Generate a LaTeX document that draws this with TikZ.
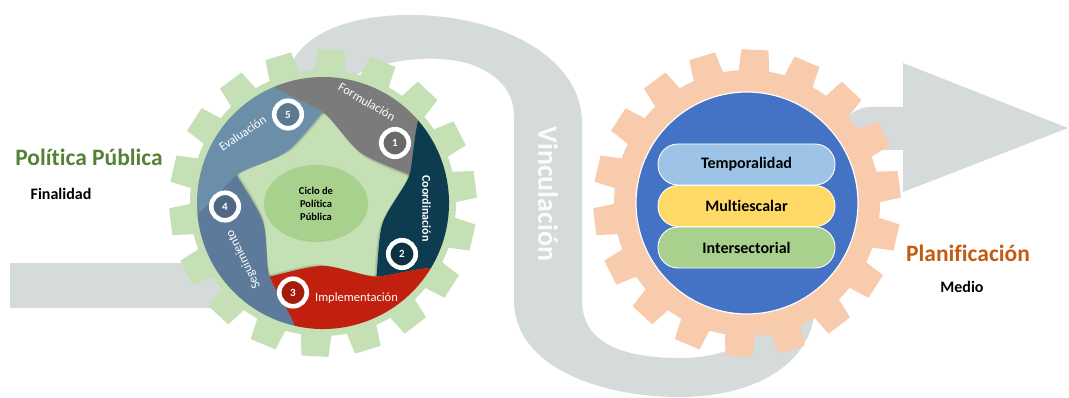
\documentclass[tikz,border=0pt]{standalone}
\usepackage{fontspec}
\setmainfont{Carlito}[Ligatures=NoCommon]
\usetikzlibrary{shapes.geometric}
\definecolor{bandgray}{HTML}{D5DADA}
\definecolor{leafgreen}{HTML}{C5E0B4}
\definecolor{peach}{HTML}{F8CBAD}
\definecolor{coreblue}{HTML}{4472C4}
\definecolor{pillblue}{HTML}{9DC3E6}
\definecolor{pillyellow}{HTML}{FFD966}
\definecolor{pillgreen}{HTML}{A9D18E}
\definecolor{ppgreen}{HTML}{548235}
\definecolor{planorange}{HTML}{C55A11}
\definecolor{formc}{HTML}{7B7B7B}
\definecolor{coordc}{HTML}{0D3B4F}
\definecolor{implc}{HTML}{C0200D}
\definecolor{seguc}{HTML}{5E7A9B}
\definecolor{evalc}{HTML}{6B8FA8}
\definecolor{cicloc}{HTML}{A9D18E}

% gear: centre, colour, phase of the first tooth
\newcommand{\gearshape}[3]{%
  \begin{scope}[shift={(#1)}]
    \fill[#2] (0,0) circle[radius=133];
    \foreach \a in {0,20,...,340}{
      \fill[#2] ({#3+\a-6.8}:131) -- ({#3+\a-5}:154) -- ({#3+\a+5}:154) -- ({#3+\a+6.8}:131) -- cycle;
    }
  \end{scope}}

% outline of one leaf of the cycle (the first one, at the top right)
\newcommand{\leafpath}{(-49.2,116) arc[start angle=113, end angle=41, radius=126]
      .. controls (90.6,64.1) and (89.47,38.53) .. (86.54,28.12)
      .. controls (78,32) and (50,42) .. (38.8,49.6)
      .. controls (26,58) and (10,84) .. (0,91)
      .. controls (-9,97) and (-33,106) .. (-49.2,116) -- cycle}

\begin{document}
\begin{tikzpicture}[x=1pt,y=1pt,
  leaflabel/.style={inner sep=0pt, text=white, font=\fontsize{12.5}{14}\selectfont},
  numring/.style={circle, draw=white, line width=4.6pt, minimum size=27.5pt, inner sep=0pt,
                  text=white, font=\bfseries\fontsize{11}{11}\selectfont},
  pill/.style={rectangle, rounded corners=20pt, minimum width=177pt, minimum height=41pt,
               draw=white, line width=0.9pt, inner sep=0pt, font=\bfseries\fontsize{16}{18}\selectfont},
  heading/.style={inner sep=0pt, font=\bfseries\fontsize{23.5}{26}\selectfont},
  subheading/.style={inner sep=0pt, font=\bfseries\fontsize{16}{18}\selectfont}]
\useasboundingbox (0,0) rectangle (1069,397);

% winding ribbon with its arrow head
\fill[bandgray] (10,134) -- (235,134)
  .. controls (285,134) and (280,302) .. (290,330)
  .. controls (300,358) and (340,382) .. (410,382)
  .. controls (500,382) and (582,340) .. (582,274)
  -- (582,97)
  .. controls (582,55) and (620,39) .. (680,39)
  .. controls (730,39) and (775,60) .. (790,110)
  .. controls (805,160) and (820,290) .. (870,290)
  -- (903,290) -- (903,334) -- (1068,269) -- (903,205) -- (903,247) -- (880,247)
  .. controls (840,247) and (818,180) .. (815,90)
  .. controls (812,30) and (750,0) .. (680,0)
  .. controls (600,0) and (514,30) .. (514,97)
  -- (514,280)
  .. controls (514,305) and (500,322) .. (470,333)
  .. controls (440,342) and (395,340) .. (360,324)
  .. controls (330,315) and (310,89) .. (240,89)
  -- (10,89) -- cycle;

\node[rotate=-90, inner sep=0pt, text=white!92!bandgray, font=\bfseries\fontsize{28}{30}\selectfont]
  (vinc) at (548,203) {Vinculación};

% the two gears
\gearshape{323,194}{leafgreen}{87}
\gearshape{747,194}{peach}{87}

% soft shadows of the leaves
\foreach \k in {0,...,4}{
  \begin{scope}[shift={(323,194)}, rotate={-72*\k}]
    \begin{scope}[shift={(1.2,-1.8)}]
      \fill[black, opacity=0.10] \leafpath;
    \end{scope}
    \begin{scope}[shift={(2.4,-3.6)}]
      \fill[black, opacity=0.07] \leafpath;
    \end{scope}
  \end{scope}
}
% five leaves of the policy cycle, each one a turned copy of the first
\foreach \k/\c in {0/formc,1/coordc,2/implc,3/seguc,4/evalc}{
  \begin{scope}[shift={(323,194)}, rotate={-72*\k}]
    \fill[\c] \leafpath;
  \end{scope}
}

\node[ellipse, fill=cicloc, minimum width=104pt, minimum height=77pt, inner sep=0pt,
      align=center, font=\bfseries\fontsize{10.5}{13}\selectfont] (ciclo) at (316,193.5)
  {Ciclo de\\Política\\Pública};

\node[numring, fill=formc!85!black]  (n1) at (395,254) {1};
\node[numring, fill=coordc!85!black] (n2) at (402,143) {2};
\node[numring, fill=implc!85!black]  (n3) at (293,104.5) {3};
\node[numring, fill=seguc!85!black]  (n4) at (225,190.5) {4};
\node[numring, fill=evalc!85!black]  (n5) at (288,282.5) {5};

\node[leaflabel, rotate=-30] (l1) at (367,295) {Formulación};
\node[leaflabel, rotate=-90, font=\bfseries\fontsize{12}{14}\selectfont] (l2) at (426.5,188.5) {Coordinación};
\node[leaflabel] (l3) at (356.5,98.5) {Implementación};
\node[leaflabel, rotate=116] (l4) at (243.5,137.8) {Seguimiento};
\node[leaflabel, rotate=34] (l5) at (242.5,263.7) {Evaluación};

% core of the planning gear
\node[circle, fill=coreblue, draw=white, line width=1.2pt, minimum size=222pt, inner sep=0pt] (core) at (747,194) {};
\node[pill, fill=pillblue]   (p1) at (746.5,232.5) {Temporalidad};
\node[pill, fill=pillyellow] (p2) at (746.5,191)   {Multiescalar};
\node[pill, fill=pillgreen]  (p3) at (746.5,149.5) {Intersectorial};

% side captions
\node[heading, text=ppgreen] (pp) at (89,240) {Política Pública};
\node[subheading] (fin) at (61,203) {Finalidad};
\node[heading, text=planorange] (plan) at (968,144) {Planificación};
\node[subheading] (med) at (962,110) {Medio};
\end{tikzpicture}
\end{document}
